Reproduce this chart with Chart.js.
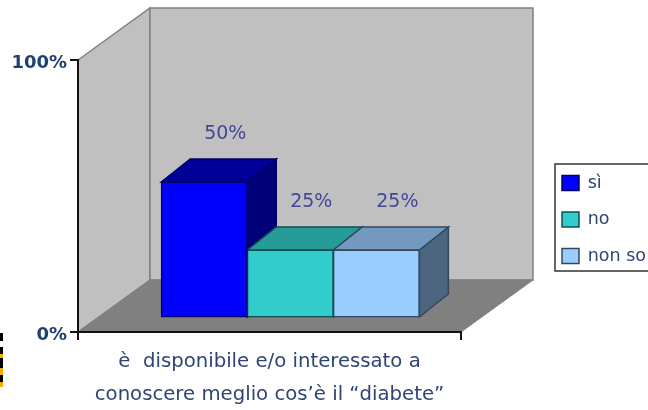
<!DOCTYPE html>
<html>
<head>
<meta charset="utf-8">
<script src="https://cdn.jsdelivr.net/npm/chart.js@4"></script>
<style>
  html, body { margin: 0; padding: 0; background: #fff; overflow: hidden; }
  canvas { display: block; filter: blur(0.4px); }
</style>
</head>
<body>
<canvas id="chart" width="648" height="410"></canvas>
<script>
const categories = [['è  disponibile e/o interessato a', 'conoscere meglio cos’è il “diabete”']];
const seriesNames = ['sì', 'no', 'non so'];
const siValues = [50];
const noValues = [25];
const nonSoValues = [25];
const yTicks = [0, 100];

const textColor = '#2f4574';
const labelColor = '#45459c';
const fontFamily = '"DejaVu Sans", sans-serif';

// depth of the box and of the bars, the chart is fake 3d
const boxDepth = { x: 72, y: -52 };
const barShift = { x: 20.8, y: -14 };
const barDepth = { x: 29, y: -23 };
const topColors = ['#000099', '#269c98', '#7399bf'];
const sideColors = ['#000078', '#1d7775', '#4d6680'];
const edgeColors = ['#000066', '#0f4f50', '#33475f'];

function poly(ctx, pts, fill, stroke, lw) {
  ctx.beginPath();
  pts.forEach((p, i) => i ? ctx.lineTo(p[0], p[1]) : ctx.moveTo(p[0], p[1]));
  ctx.closePath();
  ctx.fillStyle = fill;
  ctx.fill();
  ctx.strokeStyle = stroke;
  ctx.lineWidth = lw;
  ctx.stroke();
}

const box3d = {
  id: 'box3d',
  beforeLayout(chart) {
    // keep the plot at the same width whatever the legend text measures
    const legend = chart.legend;
    if (!legend.fitWrapped) {
      const fit = legend.fit;
      legend.fit = function () { fit.call(this); this.width = 187; };
      legend.fitWrapped = true;
    }
  },
  afterLayout(chart) {
    chart.legend.left = 543;
    chart.legend.top = 155.25;
  },
  beforeDraw(chart) {
    const { ctx, chartArea: a } = chart;
    const dx = boxDepth.x, dy = boxDepth.y;
    ctx.save();
    poly(ctx, [[a.left, a.top], [a.left + dx, a.top + dy], [a.left + dx, a.bottom + dy], [a.left, a.bottom]], '#c0c0c0', '#808080', 1.5);
    poly(ctx, [[a.left + dx, a.top + dy], [a.right + dx, a.top + dy], [a.right + dx, a.bottom + dy], [a.left + dx, a.bottom + dy]], '#c0c0c0', '#808080', 1.5);
    poly(ctx, [[a.left, a.bottom], [a.left + dx, a.bottom + dy], [a.right + dx, a.bottom + dy], [a.right, a.bottom]], '#808080', '#808080', 1);
    ctx.restore();
  },
  beforeDatasetsDraw(chart) {
    const ctx = chart.ctx;
    ctx.save();
    ctx.translate(barShift.x, barShift.y);
    chart.data.datasets.forEach((ds, i) => {
      const el = chart.getDatasetMeta(i).data[0];
      const l = el.x - el.width / 2, r = el.x + el.width / 2;
      const t = el.y, b = el.base;
      const dx = barDepth.x, dy = barDepth.y;
      poly(ctx, [[r, t], [r + dx, t + dy], [r + dx, b + dy], [r, b]], sideColors[i], edgeColors[i], 1.5);
      poly(ctx, [[l, t], [l + dx, t + dy], [r + dx, t + dy], [r, t]], topColors[i], edgeColors[i], 1.5);
    });
  },
  afterDatasetsDraw(chart) {
    const ctx = chart.ctx;
    ctx.restore();
    ctx.save();
    ctx.font = '19px ' + fontFamily;
    ctx.fillStyle = labelColor;
    ctx.textAlign = 'center';
    ctx.textBaseline = 'middle';
    chart.data.datasets.forEach((ds, i) => {
      const el = chart.getDatasetMeta(i).data[0];
      ctx.fillText(ds.data[0] + '%', el.x + barShift.x + 21, el.y + barShift.y - 48);
    });
    ctx.restore();
  },
  afterDraw(chart) {
    const ctx = chart.ctx;
    ctx.save();
    // frame round the legend, runs off the right side like the original
    ctx.strokeStyle = '#333';
    ctx.lineWidth = 1.5;
    ctx.strokeRect(555, 164, 110, 107);
    // scrap of the slide border at the lower left edge
    [[333, 8, '#000'], [347, 7, '#000'], [354, 4, '#f5ae00'], [358, 10, '#000'],
     [368, 7, '#f5ae00'], [375, 7, '#000'], [382, 5, '#f5ae00']].forEach(s => {
      ctx.fillStyle = s[2];
      ctx.fillRect(0, s[0], 3, s[1]);
    });
    ctx.restore();
  }
};

const barStyle = { borderWidth: 1.5, borderSkipped: false, inflateAmount: 0.5 };

new Chart(document.getElementById('chart'), {
  type: 'bar',
  data: {
    labels: categories,
    datasets: [
      { label: seriesNames[0], data: siValues, backgroundColor: '#0000ff', borderColor: edgeColors[0], ...barStyle },
      { label: seriesNames[1], data: noValues, backgroundColor: '#33cccc', borderColor: edgeColors[1], ...barStyle },
      { label: seriesNames[2], data: nonSoValues, backgroundColor: '#99ccff', borderColor: edgeColors[2], ...barStyle }
    ]
  },
  options: {
    responsive: false,
    animation: false,
    devicePixelRatio: 1,
    layout: { padding: { top: 60, left: 0, right: 0, bottom: 0 } },
    datasets: { bar: { categoryPercentage: 0.674, barPercentage: 1 } },
    plugins: {
      tooltip: { enabled: false },
      legend: {
        position: 'right',
        align: 'start',
        labels: {
          boxWidth: 17,
          boxHeight: 15,
          padding: 19,
          color: textColor,
          font: { family: fontFamily, size: 17.5 }
        }
      }
    },
    scales: {
      x: {
        offset: true,
        afterFit(s) { s.height = 78; },
        border: { color: '#111', width: 2 },
        grid: { offset: true, drawOnChartArea: false, drawTicks: true, tickLength: 8, color: '#111', lineWidth: 2 },
        ticks: { color: textColor, padding: 5, maxRotation: 0, font: { family: fontFamily, size: 19.7, lineHeight: 1.675 } }
      },
      y: {
        min: yTicks[0],
        max: yTicks[1],
        afterFit(s) { s.width = 78; },
        afterBuildTicks(s) { s.ticks = yTicks.map(v => ({ value: v })); },
        border: { color: '#111', width: 2 },
        grid: { drawOnChartArea: false, drawTicks: true, tickLength: 8, color: '#111', lineWidth: 2 },
        ticks: { color: '#1f4274', padding: 3, labelOffset: 3, callback: v => v + '%', font: { family: fontFamily, size: 18, weight: 'bold' } }
      }
    }
  },
  plugins: [box3d]
});
</script>
</body>
</html>
